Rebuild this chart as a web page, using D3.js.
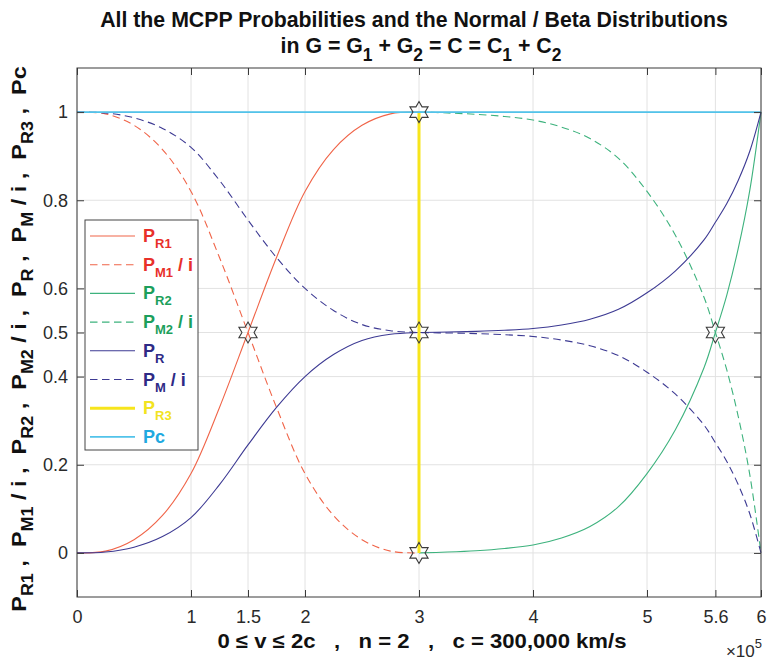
<!DOCTYPE html>
<html><head><meta charset="utf-8">
<script src="https://cdn.jsdelivr.net/npm/d3@7"></script>
<style>
body{margin:0;background:#fff;}
svg{display:block;font-family:"Liberation Sans",Arial,Helvetica,sans-serif;}
text{white-space:pre;}
</style></head><body>
<svg id="c" width="769" height="662"></svg>
<script>
// ---- data (x in units of 10^5 km/s) ----
const vLeft  = [0, 0.25, 0.5, 0.75, 1, 1.25, 1.5, 1.75, 2, 2.25, 2.5, 2.75, 3];
const pR1    = [0, 0.004, 0.03, 0.085, 0.18, 0.33, 0.5, 0.67, 0.82, 0.915, 0.97, 0.996, 1];
const pM1    = [1, 0.996, 0.97, 0.915, 0.82, 0.67, 0.5, 0.33, 0.18, 0.085, 0.03, 0.004, 0];
const pRLeft = [0, 0.002, 0.013, 0.037, 0.08, 0.155, 0.245, 0.33, 0.4, 0.45, 0.482, 0.496, 0.5];
const pMLeft = [1, 0.998, 0.987, 0.963, 0.92, 0.845, 0.755, 0.67, 0.6, 0.55, 0.518, 0.504, 0.5];

const vRight  = [3, 3.25, 3.5, 3.75, 4, 4.25, 4.5, 4.75, 5, 5.25, 5.5, 5.6, 5.7, 5.8, 5.9, 6];
const pR2     = [0, 0.002, 0.005, 0.01, 0.018, 0.034, 0.06, 0.105, 0.18, 0.28, 0.42, 0.5, 0.585, 0.69, 0.82, 1];
const pM2     = [1, 0.998, 0.995, 0.99, 0.982, 0.966, 0.94, 0.895, 0.82, 0.72, 0.58, 0.5, 0.415, 0.31, 0.18, 0];
const pRRight = [0.5, 0.501, 0.5025, 0.505, 0.509, 0.517, 0.53, 0.5525, 0.59, 0.64, 0.71, 0.75, 0.7925, 0.845, 0.91, 1];
const pMRight = [0.5, 0.499, 0.4975, 0.495, 0.491, 0.483, 0.47, 0.4475, 0.41, 0.36, 0.29, 0.25, 0.2075, 0.155, 0.09, 0];

const pR3X = [3, 3];
const pR3Y = [0, 1];
const pcX  = [0, 6];
const pcY  = [1, 1];

const starX = [1.5, 3, 3, 3, 5.6];
const starY = [0.5, 1, 0.5, 0, 0.5];

const xTicks = [0, 1, 1.5, 2, 3, 4, 5, 5.6, 6];
const xTickLabels = ["0", "1", "1.5", "2", "3", "4", "5", "5.6", "6"];
const yTicks = [0, 0.2, 0.4, 0.5, 0.6, 0.8, 1];
const yTickLabels = ["0", "0.2", "0.4", "0.5", "0.6", "0.8", "1"];

// ---- layout ----
const svg = d3.select("#c");
const m = {l: 77, r: 761, t: 68, b: 597};
const x = d3.scaleLinear().domain([0, 6]).range([m.l, m.r]);
const y = d3.scaleLinear().domain([-0.1, 1.1]).range([m.b, m.t]);

const C = {
  red: "#f06448", green: "#3db27d", blue: "#3d3a93", yellow: "#f7e51c", cyan: "#52c3ea",
  tRed: "#e8302a", tGreen: "#1c9f5c", tBlue: "#2e2a86", tYellow: "#f2e320", tCyan: "#20a9e0",
  axis: "#3a3a3a", grid: "#e2e2e2", label: "#2a2a2a"
};

// grid
svg.append("g").selectAll("line").data(xTicks).join("line")
  .attr("x1", d => x(d)).attr("x2", d => x(d)).attr("y1", m.t).attr("y2", m.b)
  .attr("stroke", C.grid).attr("stroke-width", 1);
svg.append("g").selectAll("line").data(yTicks).join("line")
  .attr("y1", d => y(d)).attr("y2", d => y(d)).attr("x1", m.l).attr("x2", m.r)
  .attr("stroke", C.grid).attr("stroke-width", 1);

// curves
const line = d3.line().x(d => x(d[0])).y(d => y(d[1])).curve(d3.curveCatmullRom.alpha(0.5));
const zip = (xs, ys) => xs.map((v, i) => [v, ys[i]]);
const dash = "7.5,4.5";
const series = [
  {xs: vLeft, ys: pR1, c: C.red, dash: null},
  {xs: vLeft, ys: pM1, c: C.red, dash: dash},
  {xs: vRight, ys: pR2, c: C.green, dash: null},
  {xs: vRight, ys: pM2, c: C.green, dash: dash},
  {xs: vLeft.concat(vRight.slice(1)), ys: pRLeft.concat(pRRight.slice(1)), c: C.blue, dash: null},
  {xs: vLeft.concat(vRight.slice(1)), ys: pMLeft.concat(pMRight.slice(1)), c: C.blue, dash: dash}
];
series.forEach(s => {
  svg.append("path").attr("d", line(zip(s.xs, s.ys)))
    .attr("fill", "none").attr("stroke", s.c).attr("stroke-width", 1.1)
    .attr("stroke-dasharray", s.dash);
});
const straight = d3.line().x(d => x(d[0])).y(d => y(d[1]));
svg.append("path").attr("d", straight(zip(pR3X, pR3Y)))
  .attr("stroke", C.yellow).attr("stroke-width", 3).attr("fill", "none");
svg.append("path").attr("d", straight(zip(pcX, pcY)))
  .attr("stroke", C.cyan).attr("stroke-width", 1.6).attr("fill", "none");

// stars (hexagram)
function hexagram(R) {
  const r = R / Math.sqrt(3);
  const pts = [];
  for (let k = 0; k < 12; k++) {
    const a = -Math.PI / 2 + k * Math.PI / 6;
    const rr = k % 2 === 0 ? R : r;
    pts.push([rr * Math.cos(a), rr * Math.sin(a)]);
  }
  return "M" + pts.map(p => p.join(",")).join("L") + "Z";
}
svg.append("g").selectAll("path").data(starX).join("path")
  .attr("d", hexagram(10.5))
  .attr("transform", (d, i) => `translate(${x(d)},${y(starY[i])})`)
  .attr("fill", "none").attr("stroke", "#3a3a3a").attr("stroke-width", 1.1);

// axes
const fmtX = d => xTickLabels[xTicks.indexOf(d)];
const fmtY = d => yTickLabels[yTicks.indexOf(d)];
const gx = svg.append("g").attr("transform", `translate(0,${m.b})`)
  .call(d3.axisBottom(x).tickValues(xTicks).tickFormat(fmtX).tickSizeInner(-7).tickSizeOuter(0).tickPadding(13));
const gxt = svg.append("g").attr("transform", `translate(0,${m.t})`)
  .call(d3.axisTop(x).tickValues(xTicks).tickFormat("").tickSizeInner(-7).tickSizeOuter(0));
const gy = svg.append("g").attr("transform", `translate(${m.l},0)`)
  .call(d3.axisLeft(y).tickValues(yTicks).tickFormat(fmtY).tickSizeInner(-7).tickSizeOuter(0).tickPadding(9));
const gyr = svg.append("g").attr("transform", `translate(${m.r},0)`)
  .call(d3.axisRight(y).tickValues(yTicks).tickFormat("").tickSizeInner(-7).tickSizeOuter(0));
[gx, gxt, gy, gyr].forEach(g => {
  g.select(".domain").remove();
  g.selectAll(".tick line").attr("stroke", C.axis);
  g.selectAll(".tick text").attr("fill", C.label).style("font-size", "18px")
    .style("font-family", '"Liberation Sans",Arial,sans-serif');
});
svg.append("rect").attr("x", m.l).attr("y", m.t).attr("width", m.r - m.l).attr("height", m.b - m.t)
  .attr("fill", "none").attr("stroke", C.axis).attr("stroke-width", 1);

// rich text helper: parts = [[string, isSub]]
function rich(sel, parts, size, subSize, shift) {
  let inSub = false;
  parts.forEach(([s, sub]) => {
    const t = sel.append("tspan").text(s).style("font-size", (sub ? subSize : size) + "px");
    if (sub && !inSub) t.attr("dy", shift);
    if (!sub && inSub) t.attr("dy", -shift);
    inSub = sub;
  });
  return sel;
}
function place(sel, cx, cy, target, rot) {
  const w = sel.node().getBBox().width;
  const s = target / w;
  sel.attr("transform", `translate(${cx},${cy})${rot ? " rotate(-90)" : ""} scale(${s},1)`);
}

// title
const t1 = svg.append("text").attr("text-anchor", "middle").attr("font-weight", "bold")
  .style("font-size", "22px").attr("fill", "#111")
  .text("All the MCPP Probabilities and the Normal / Beta Distributions");
place(t1, 414, 27, 628);
const t2 = svg.append("text").attr("text-anchor", "middle").attr("font-weight", "bold").attr("fill", "#111");
rich(t2, [["in G = G", 0], ["1", 1], [" + G", 0], ["2", 1], [" = C = C", 0], ["1", 1], [" + C", 0], ["2", 1]], 22, 18, 8);
place(t2, 421, 53, 281);

// x label
const xl = svg.append("text").attr("text-anchor", "middle").attr("font-weight", "bold")
  .style("font-size", "20px").attr("fill", "#111")
  .text("0 \u2264 v \u2264 2c   ,   n = 2   ,   c = 300,000 km/s");
place(xl, 422, 648, 409);

// x10^5
const ex = svg.append("text").attr("text-anchor", "end").attr("fill", C.label);
rich(ex, [["\u00d710", 0]], 17, 13, 0);
ex.append("tspan").text("5").style("font-size", "13px").attr("dy", -9);
ex.attr("x", 762).attr("y", 657);

// y label
const yl = svg.append("text").attr("text-anchor", "middle").attr("font-weight", "bold").attr("fill", "#111");
rich(yl, [
  ["P", 0], ["R1", 1], [" ,  P", 0], ["M1", 1], [" / i ,  P", 0], ["R2", 1], [" ,  P", 0], ["M2", 1],
  [" / i ,  P", 0], ["R", 1], [" ,  P", 0], ["M", 1], [" / i ,  P", 0], ["R3", 1], [" ,  Pc", 0]
], 21, 16, 7);
place(yl, 26, 339, 546, true);

// legend
const legItems = [
  {lab: [["P", 0], ["R1", 1]], c: C.red, tc: C.tRed, dash: null, w: 1.1},
  {lab: [["P", 0], ["M1", 1], [" / i", 0]], c: C.red, tc: C.tRed, dash: dash, w: 1.1},
  {lab: [["P", 0], ["R2", 1]], c: C.green, tc: C.tGreen, dash: null, w: 1.1},
  {lab: [["P", 0], ["M2", 1], [" / i", 0]], c: C.green, tc: C.tGreen, dash: dash, w: 1.1},
  {lab: [["P", 0], ["R", 1]], c: C.blue, tc: C.tBlue, dash: null, w: 1.1},
  {lab: [["P", 0], ["M", 1], [" / i", 0]], c: C.blue, tc: C.tBlue, dash: dash, w: 1.1},
  {lab: [["P", 0], ["R3", 1]], c: C.yellow, tc: C.tYellow, dash: null, w: 3},
  {lab: [["Pc", 0]], c: C.cyan, tc: C.tCyan, dash: null, w: 1.6}
];
const lg = svg.append("g");
lg.append("rect").attr("x", 85).attr("y", 220).attr("width", 113).attr("height", 230)
  .attr("fill", "#fff").attr("stroke", "#444").attr("stroke-width", 1);
legItems.forEach((it, i) => {
  const yy = 236 + i * 28.7;
  lg.append("line").attr("x1", 90).attr("x2", 135).attr("y1", yy).attr("y2", yy)
    .attr("stroke", it.c).attr("stroke-width", it.w).attr("stroke-dasharray", it.dash);
  const tx = lg.append("text").attr("x", 143).attr("y", yy + 6).attr("font-weight", "bold").attr("fill", it.tc);
  rich(tx, it.lab, 18, 13, 6);
});
</script>
</body></html>
